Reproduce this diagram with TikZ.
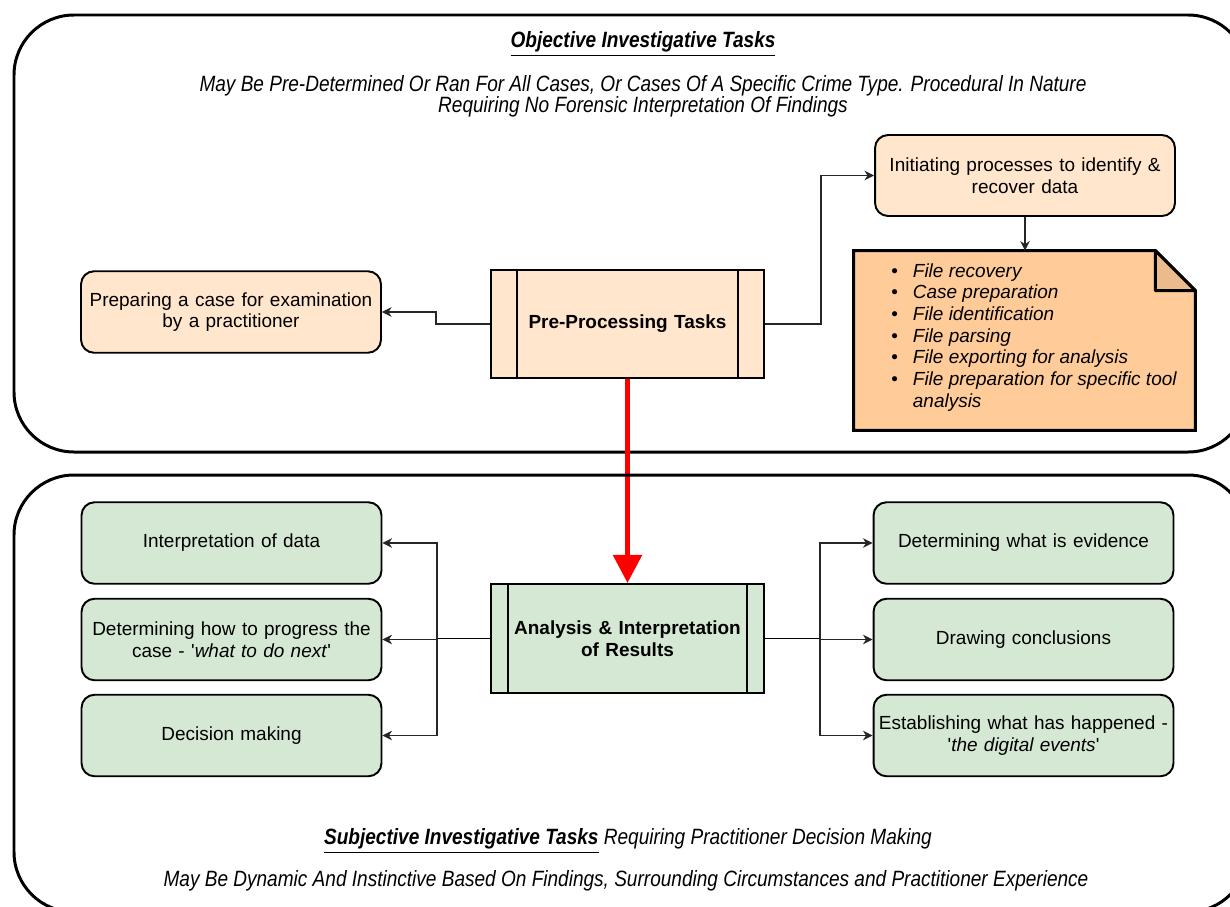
\documentclass[tikz,border=0pt]{standalone}
\usepackage{fontspec}
\setmainfont{Liberation Sans}
\newfontfamily\narrowsf[FakeStretch=0.86]{Liberation Sans}
\usetikzlibrary{arrows.meta, positioning, backgrounds}

\definecolor{peach}{HTML}{FFE6CC}
\definecolor{noteorange}{HTML}{FFCC99}
\definecolor{notefold}{HTML}{EBBB8C}
\definecolor{sage}{HTML}{D5E8D4}

\begin{document}
\begin{tikzpicture}[
  x=0.02cm, y=-0.02cm,
  font=\fontsize{10.8}{12.4}\selectfont,
  >={Stealth[length=5.5pt, width=5.5pt, inset=1.8pt]},
  zone/.style={draw, line width=1.7pt, rounded corners=1.2cm},
  task/.style={rectangle, rounded corners=2.6mm, draw, line width=1.1pt,
               minimum width=6cm, minimum height=1.63cm,
               text width=5.9cm, align=center, inner sep=0pt},
  task-P/.style={task, fill=peach},
  task-G/.style={task, fill=sage},
  proc/.style={rectangle, draw, line width=1.1pt, minimum width=5.46cm,
               text width=5.2cm, align=center, inner sep=0pt,
               font=\fontsize{10.8}{12.4}\selectfont\bfseries},
  heading/.style={align=center, font=\fontsize{12.6}{12.2}\selectfont\narrowsf\itshape},
  link/.style={->, line width=0.65pt, black!85},
  bigarrow/.style={-{Triangle[length=16pt, width=16pt]}, red, line width=3pt}
]
  \useasboundingbox (0,0) rectangle (1230,906);

  % ===========================================================
  % OBJECTIVE TASKS (top zone)
  % ===========================================================
  \draw[zone] (14,15) rectangle (1248,452);

  \node[heading] (objtitle) at (643,44)
    {\textbf{\underline{Objective Investigative Tasks}}};
  \node[heading] (objsub) at (643,96)
    {May Be Pre-Determined Or Ran For All Cases, Or Cases Of A Specific Crime Type. Procedural In Nature\\
     Requiring No Forensic Interpretation Of Findings};

  \node[proc, fill=peach, minimum height=2.16cm] (ppt) at (627.5,324) {Pre-Processing Tasks};
  \draw[line width=1.1pt] ([xshift=0.54cm]ppt.north west) -- ([xshift=0.54cm]ppt.south west);
  \draw[line width=1.1pt] ([xshift=-0.54cm]ppt.north east) -- ([xshift=-0.54cm]ppt.south east);

  \node[task-P] (prep) at (231,312) {Preparing a case for examination\\ by a practitioner};
  \node[task-P, minimum height=1.62cm] (init) at (1025,175.5)
    {Initiating processes to identify \&\\ recover data};

  % note with folded corner
  \node[minimum width=6.82cm, minimum height=3.58cm, inner sep=0pt] (note) at (1024.5,340.5) {};
  \node[anchor=north west, align=left, inner sep=0pt,
        font=\fontsize{10.8}{12.35}\selectfont] (notelist) at (891,263) {%
    \textbullet\hspace{8.5pt}\textit{File recovery}\\
    \textbullet\hspace{8.5pt}\textit{Case preparation}\\
    \textbullet\hspace{8.5pt}\textit{File identification}\\
    \textbullet\hspace{8.5pt}\textit{File parsing}\\
    \textbullet\hspace{8.5pt}\textit{File exporting for analysis}\\
    \textbullet\hspace{8.5pt}\textit{File preparation for specific tool}\\
    \phantom{\textbullet}\hspace{8.5pt}\textit{analysis}};
  \begin{scope}[on background layer]
    \draw[line width=1.7pt, fill=noteorange]
      (note.north west) -- ([xshift=-0.8cm]note.north east)
      -- ([yshift=-0.8cm]note.north east) -- (note.south east)
      -- (note.south west) -- cycle;
    \draw[line width=1.7pt, fill=notefold, line join=round]
      ([xshift=-0.8cm]note.north east) -- ([xshift=-0.8cm, yshift=-0.8cm]note.north east)
      -- ([yshift=-0.8cm]note.north east) -- cycle;
  \end{scope}

  % connectors of the top zone
  \draw[link] (ppt.west) -- ++(-54,0) |- (prep.east);
  \draw[link] (ppt.east) -- ++(56,0) |- (init.west);
  \draw[link] (init.south) -- (note.north -| init.south);

  % ===========================================================
  % hand-over to the subjective tasks
  % ===========================================================
  \node[proc, fill=sage, minimum height=2.18cm] (air) at (627.5,638.5)
    {Analysis \& Interpretation\\ of Results};
  \draw[line width=1.1pt] ([xshift=0.36cm]air.north west) -- ([xshift=0.36cm]air.south west);
  \draw[line width=1.1pt] ([xshift=-0.36cm]air.north east) -- ([xshift=-0.36cm]air.south east);

  \draw[bigarrow] (ppt.south) -- (air.north);

  % ===========================================================
  % SUBJECTIVE TASKS (bottom zone)
  % ===========================================================
  \draw[zone] (14,475) rectangle (1248,912);

  \node[task-G] (interp) at (231.5,543) {Interpretation of data};
  \node[task-G] (progress) at (231.5,639.5)
    {Determining how to progress the\\ case - \textquotesingle\textit{what to do next}\textquotesingle};
  \node[task-G] (decide) at (231.5,735.5) {Decision making};

  \node[task-G] (evid) at (1023.5,543) {Determining what is evidence};
  \node[task-G] (concl) at (1023.5,639.5) {Drawing conclusions};
  \node[task-G] (events) at (1023.5,735.5)
    {Establishing what has happened -\\ \textquotesingle\textit{the digital events}\textquotesingle};

  \coordinate (lfork) at (437,638.5);
  \coordinate (rfork) at (820,638.5);
  \draw[line width=0.9pt] (air.west) -- (lfork);
  \draw[line width=0.9pt] (air.east) -- (rfork);
  \draw[link] (lfork) |- (interp.east);
  \draw[link] (lfork) |- (progress.east);
  \draw[link] (lfork) |- (decide.east);
  \draw[link] (rfork) |- (evid.west);
  \draw[link] (rfork) |- (concl.west);
  \draw[link] (rfork) |- (events.west);

  \node[heading] (subjtitle) at (628,841)
    {\textbf{\underline{Subjective Investigative Tasks}} Requiring Practitioner Decision Making};
  \node[heading] (subjsub) at (626,881)
    {May Be Dynamic And Instinctive Based On Findings, Surrounding Circumstances and Practitioner Experience};

\end{tikzpicture}
\end{document}
